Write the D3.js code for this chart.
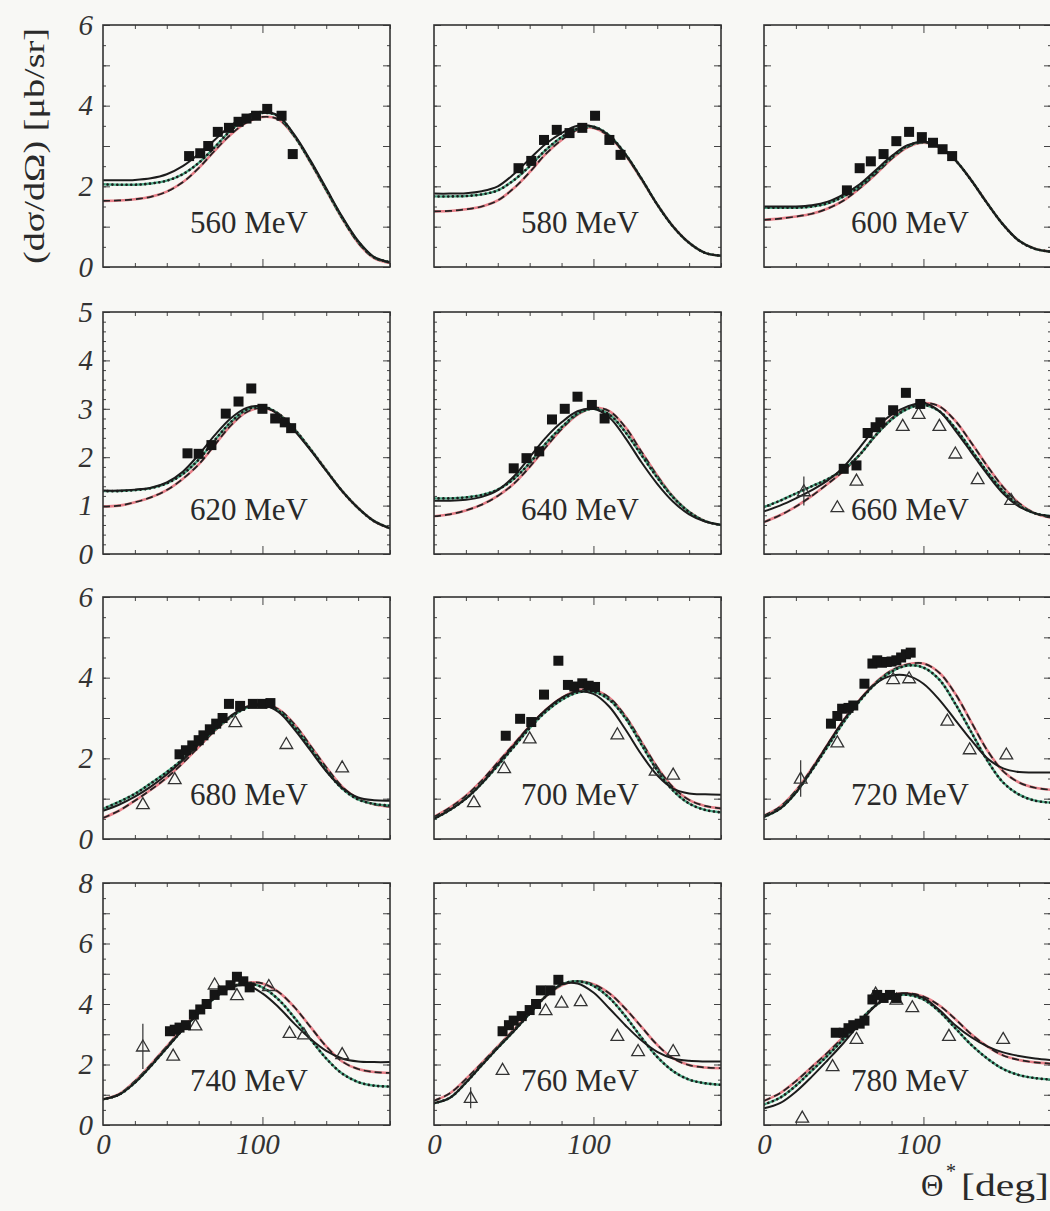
<!DOCTYPE html>
<html>
<head>
<meta charset="utf-8">
<script src="https://cdn.jsdelivr.net/npm/d3@7"></script>
<style>
  html, body { margin: 0; padding: 0; background: #f8f8f5; }
  svg { display: block; }
</style>
</head>
<body>
<script>
// Panel labels (photon energy), one per panel, row by row
const energies = ["560 MeV", "580 MeV", "600 MeV", "620 MeV", "640 MeV", "660 MeV",
                  "680 MeV", "700 MeV", "720 MeV", "740 MeV", "760 MeV", "780 MeV"];

// Upper limit of the y axis for each row of panels, and the labelled ticks
const rowYMax = [6, 5, 6, 8];
const rowYTicks = [[0, 2, 4, 6], [0, 1, 2, 3, 4, 5], [0, 2, 4, 6], [0, 2, 4, 6, 8]];
const rowYMinorStep = [0.5, 0.2, 0.5, 0.5];
const xTickLabels = [0, 100];

// Angles at which the model curves are tabulated (deg)
const angles = [0, 10, 20, 30, 40, 50, 60, 70, 80, 90, 100, 110, 120, 130, 140, 150, 160, 170, 180];

// Model curves, one row per panel (ub/sr)
const solidCurves = [
  [2.15,2.15,2.16,2.2,2.3,2.5,2.8,3.15,3.5,3.75,3.85,3.75,3.28,2.65,1.95,1.25,0.65,0.25,0.12],
  [1.82,1.82,1.83,1.88,2.0,2.3,2.68,3.05,3.32,3.5,3.48,3.25,2.8,2.2,1.55,1.0,0.6,0.35,0.28],
  [1.5,1.5,1.5,1.53,1.62,1.8,2.05,2.4,2.75,3.02,3.1,2.98,2.65,2.15,1.58,1.05,0.65,0.45,0.38],
  [1.31,1.31,1.33,1.37,1.48,1.7,2.05,2.45,2.8,3.02,3.05,2.88,2.55,2.15,1.72,1.3,0.95,0.68,0.53],
  [1.1,1.1,1.12,1.18,1.32,1.6,2.0,2.4,2.72,2.95,3.0,2.82,2.4,1.9,1.45,1.08,0.82,0.67,0.6],
  [0.88,1.0,1.15,1.32,1.52,1.8,2.2,2.6,2.88,3.05,3.12,2.95,2.55,2.1,1.65,1.25,0.98,0.84,0.78],
  [0.7,0.85,1.05,1.3,1.6,1.95,2.35,2.72,3.05,3.28,3.32,3.15,2.72,2.2,1.68,1.27,1.03,0.96,0.95],
  [0.5,0.72,1.0,1.38,1.85,2.32,2.8,3.2,3.5,3.66,3.6,3.28,2.72,2.1,1.58,1.25,1.13,1.11,1.1],
  [0.55,0.75,1.15,1.72,2.35,2.95,3.45,3.85,4.05,4.05,3.85,3.45,2.95,2.45,2.0,1.75,1.66,1.65,1.65],
  [0.85,1.0,1.4,1.95,2.55,3.15,3.7,4.2,4.55,4.62,4.35,3.9,3.35,2.85,2.45,2.2,2.1,2.08,2.08],
  [0.72,0.9,1.4,1.98,2.55,3.1,3.68,4.25,4.65,4.68,4.38,3.85,3.3,2.8,2.42,2.2,2.12,2.1,2.1],
  [0.55,0.72,1.1,1.6,2.15,2.72,3.35,3.95,4.3,4.35,4.2,3.8,3.3,2.9,2.6,2.4,2.28,2.2,2.15]
];
const dottedCurves = [
  [2.05,2.04,2.04,2.07,2.14,2.3,2.58,2.97,3.38,3.68,3.82,3.74,3.25,2.62,1.92,1.22,0.63,0.24,0.12],
  [1.75,1.75,1.76,1.8,1.9,2.15,2.5,2.9,3.22,3.43,3.48,3.26,2.8,2.2,1.55,1.0,0.6,0.35,0.28],
  [1.47,1.47,1.47,1.5,1.58,1.75,2.0,2.35,2.72,3.0,3.1,2.98,2.65,2.15,1.58,1.05,0.65,0.45,0.38],
  [1.3,1.3,1.32,1.36,1.46,1.65,1.95,2.35,2.72,2.98,3.05,2.9,2.58,2.17,1.73,1.3,0.95,0.68,0.53],
  [1.15,1.15,1.17,1.22,1.33,1.55,1.88,2.28,2.62,2.9,3.0,2.88,2.52,2.05,1.58,1.17,0.87,0.68,0.6],
  [0.97,1.1,1.25,1.4,1.55,1.75,2.05,2.45,2.78,3.0,3.08,2.95,2.6,2.15,1.7,1.3,1.0,0.84,0.78],
  [0.75,0.92,1.12,1.38,1.66,1.98,2.35,2.7,3.02,3.25,3.32,3.18,2.78,2.25,1.7,1.25,0.98,0.87,0.83],
  [0.5,0.72,1.0,1.38,1.82,2.28,2.75,3.15,3.45,3.63,3.65,3.45,3.0,2.35,1.7,1.2,0.88,0.72,0.66],
  [0.55,0.75,1.15,1.7,2.3,2.9,3.42,3.85,4.15,4.3,4.25,3.95,3.35,2.65,1.95,1.4,1.1,0.95,0.9],
  [0.85,1.0,1.4,1.95,2.55,3.15,3.7,4.2,4.55,4.68,4.55,4.15,3.55,2.85,2.2,1.7,1.42,1.3,1.27],
  [0.72,0.9,1.4,1.98,2.55,3.1,3.68,4.25,4.65,4.75,4.6,4.2,3.6,2.9,2.25,1.78,1.5,1.38,1.33],
  [0.68,0.9,1.3,1.8,2.3,2.85,3.45,3.95,4.25,4.3,4.15,3.75,3.2,2.65,2.2,1.85,1.65,1.55,1.5]
];
const dashedCurves = [
  [1.64,1.65,1.68,1.74,1.87,2.1,2.45,2.88,3.28,3.58,3.72,3.66,3.24,2.6,1.9,1.2,0.6,0.22,0.1],
  [1.38,1.39,1.43,1.5,1.65,1.95,2.35,2.8,3.15,3.4,3.45,3.23,2.78,2.18,1.55,1.0,0.6,0.35,0.28],
  [1.17,1.2,1.25,1.32,1.45,1.65,1.95,2.3,2.68,2.97,3.08,2.97,2.65,2.15,1.58,1.05,0.65,0.45,0.38],
  [0.98,1.0,1.07,1.17,1.32,1.55,1.85,2.25,2.65,2.93,3.02,2.9,2.58,2.17,1.73,1.3,0.95,0.68,0.53],
  [0.78,0.82,0.9,1.02,1.2,1.45,1.8,2.2,2.58,2.88,3.02,2.95,2.62,2.12,1.62,1.18,0.87,0.68,0.6],
  [0.66,0.8,0.98,1.2,1.45,1.72,2.05,2.45,2.8,3.02,3.12,3.05,2.75,2.3,1.82,1.38,1.05,0.84,0.75],
  [0.52,0.7,0.95,1.22,1.52,1.88,2.28,2.68,3.02,3.27,3.35,3.22,2.85,2.32,1.78,1.3,1.0,0.86,0.8],
  [0.55,0.78,1.07,1.45,1.9,2.35,2.8,3.2,3.5,3.68,3.7,3.5,3.05,2.42,1.78,1.28,0.97,0.82,0.76],
  [0.58,0.8,1.2,1.75,2.35,2.95,3.45,3.88,4.18,4.33,4.35,4.12,3.6,2.9,2.2,1.68,1.4,1.27,1.22],
  [0.85,1.02,1.45,2.0,2.6,3.2,3.75,4.22,4.55,4.7,4.68,4.4,3.9,3.25,2.6,2.1,1.85,1.75,1.72],
  [0.8,1.05,1.52,2.05,2.6,3.15,3.72,4.25,4.62,4.75,4.65,4.35,3.85,3.25,2.65,2.2,1.98,1.9,1.88],
  [0.8,1.05,1.45,1.92,2.4,2.92,3.45,3.95,4.28,4.35,4.25,3.95,3.5,3.0,2.6,2.3,2.15,2.07,2.03]
];

// Measured points, filled squares: [angle, value]
const squarePoints = [
  [[54,2.75],[61,2.82],[66,3.0],[72,3.35],[79,3.45],[85,3.6],[90,3.68],[96,3.75],[103,3.92],[112,3.75],[119,2.8]],
  [[53,2.45],[61,2.63],[69,3.15],[77,3.4],[85,3.32],[93,3.45],[101,3.75],[110,3.15],[117,2.78]],
  [[52,1.9],[60,2.45],[67,2.62],[75,2.8],[83,3.12],[91,3.35],[99,3.22],[106,3.08],[112,2.92],[118,2.75]],
  [[53,2.08],[60,2.07],[68,2.25],[77,2.9],[85,3.15],[93,3.42],[100,3.0],[108,2.8],[114,2.72],[118,2.6]],
  [[50,1.77],[58,1.98],[66,2.12],[74,2.78],[82,3.0],[90,3.25],[99,3.08],[107,2.8]],
  [[50,1.76],[58,1.83],[65,2.5],[70,2.62],[73,2.72],[81,2.97],[89,3.33],[98,3.1]],
  [[48,2.1],[52,2.2],[56,2.32],[60,2.45],[63,2.57],[67,2.72],[71,2.86],[75,3.0],[79,3.35],[86,3.3],[94,3.35],[100,3.35],[105,3.37]],
  [[45,2.56],[54,2.98],[61,2.9],[69,3.58],[78,4.42],[84,3.82],[88,3.78],[93,3.86],[97,3.8],[101,3.77]],
  [[42,2.86],[46,3.05],[49,3.23],[53,3.25],[56,3.31],[63,3.85],[68,4.35],[71,4.43],[74,4.37],[77,4.39],[80,4.4],[83,4.43],[86,4.5],[89,4.58],[92,4.62]],
  [[42,3.1],[45,3.15],[48,3.22],[52,3.3],[57,3.65],[61,3.82],[65,4.0],[70,4.3],[75,4.45],[80,4.62],[84,4.9],[88,4.75],[92,4.55]],
  [[43,3.1],[47,3.3],[50,3.45],[55,3.6],[60,3.8],[64,4.0],[67,4.45],[73,4.45],[78,4.8]],
  [[45,3.05],[50,3.05],[53,3.2],[56,3.3],[60,3.35],[63,3.45],[68,4.15],[71,4.3],[75,4.2],[79,4.3],[83,4.2]]
];

// Measured points, open triangles: [angle, value, error]
const trianglePoints = [
  [], [], [], [], [],
  [[25,1.3,0.3],[46,0.97,0],[58,1.52,0],[87,2.65,0],[97,2.9,0],[110,2.65,0],[120,2.08,0],[134,1.55,0],[155,1.12,0]],
  [[25,0.87,0],[45,1.49,0],[83,2.9,0],[115,2.36,0],[150,1.78,0]],
  [[25,0.92,0],[44,1.76,0],[60,2.5,0],[115,2.6,0],[139,1.7,0],[150,1.6,0]],
  [[23,1.5,0.45],[46,2.4,0],[81,3.97,0],[91,3.99,0],[115,2.94,0],[129,2.23,0],[152,2.1,0]],
  [[25,2.6,0.75],[44,2.3,0],[58,3.3,0],[70,4.65,0],[84,4.3,0],[104,4.6,0],[117,3.05,0],[126,3.0,0],[150,2.35,0]],
  [[23,0.9,0.35],[43,1.83,0],[70,3.8,0],[80,4.05,0],[92,4.1,0],[115,2.95,0],[128,2.45,0],[150,2.45,0]],
  [[24,0.25,0],[43,1.95,0],[58,2.85,0],[70,4.35,0],[83,4.15,0],[93,3.9,0],[116,2.95,0],[150,2.85,0]]
];

// ---------- layout ----------
const W = 1050, H = 1211;
const colLeft = [103, 434, 764];
const rowTop = [25, 312, 597, 883];
const pw = 287, ph = 242;
const serif = "'Liberation Serif', 'Times New Roman', serif";
const ink = "#1c1c1c";
const intFmt = d3.format("d");

const svg = d3.select("body").append("svg")
  .attr("width", W).attr("height", H)
  .style("background", "#f8f8f5");

const defs = svg.append("defs");

energies.forEach((label, i) => {
  const r = Math.floor(i / 3), c = i % 3;
  const x = d3.scaleLinear().domain([0, 180]).range([0, pw]);
  const y = d3.scaleLinear().domain([0, rowYMax[r]]).range([ph, 0]);

  const g = svg.append("g").attr("transform", `translate(${colLeft[c]},${rowTop[r]})`);

  defs.append("clipPath").attr("id", "clip" + i)
    .append("rect").attr("x", 0).attr("y", 0).attr("width", pw).attr("height", ph);

  // inward ticks on all four sides
  const xMinor = d3.range(0, 181, 20).filter(v => v !== 0 && v !== 100);
  const yMinor = d3.range(0, rowYMax[r] + 1e-9, rowYMinorStep[r]);
  const yMajor = d3.range(0, rowYMax[r] + 1e-9, 1);
  const tickAxes = [
    [d3.axisBottom(x).tickValues(xMinor).tickSize(-4), `translate(0,${ph})`],
    [d3.axisBottom(x).tickValues([100]).tickSize(-8), `translate(0,${ph})`],
    [d3.axisTop(x).tickValues(xMinor).tickSize(-4), null],
    [d3.axisTop(x).tickValues([100]).tickSize(-8), null],
    [d3.axisLeft(y).tickValues(yMinor).tickSize(-3), null],
    [d3.axisLeft(y).tickValues(yMajor).tickSize(-7), null],
    [d3.axisRight(y).tickValues(yMinor).tickSize(-3), `translate(${pw},0)`],
    [d3.axisRight(y).tickValues(yMajor).tickSize(-7), `translate(${pw},0)`]
  ];
  tickAxes.forEach(([ax, tr]) => {
    const a = g.append("g").call(ax.tickFormat(""));
    if (tr) a.attr("transform", tr);
    a.select(".domain").remove();
    a.selectAll("line").attr("stroke", "#444").attr("stroke-width", 1);
  });

  // y tick labels on the left column
  if (c === 0) {
    const ya = g.append("g").call(d3.axisLeft(y).tickValues(rowYTicks[r])
      .tickFormat(intFmt).tickSize(0).tickPadding(10));
    ya.select(".domain").remove();
    ya.selectAll("text")
      .attr("font-family", serif).attr("font-style", "italic")
      .attr("font-size", 29).attr("fill", "#333");
  }
  // x tick labels on the bottom row
  if (r === 3) {
    const xa = g.append("g").attr("transform", `translate(0,${ph})`)
      .call(d3.axisBottom(x).tickValues(xTickLabels).tickFormat(intFmt).tickSize(0).tickPadding(8));
    xa.select(".domain").remove();
    xa.selectAll("text")
      .attr("font-family", serif).attr("font-style", "italic")
      .attr("font-size", 29).attr("fill", "#333")
      .attr("dx", d => d === 0 ? 0 : -5);
  }

  const plot = g.append("g").attr("clip-path", `url(#clip${i})`);
  const line = d3.line()
    .x((d, j) => x(angles[j]))
    .y(d => y(d))
    .curve(d3.curveCatmullRom.alpha(0.5));

  // dashed model: red trace with black dashes
  plot.append("path").attr("d", line(dashedCurves[i]))
    .attr("fill", "none").attr("stroke", "#e36a74").attr("stroke-width", 2.6).attr("opacity", 0.85);
  plot.append("path").attr("d", line(dashedCurves[i]))
    .attr("fill", "none").attr("stroke", "#222").attr("stroke-width", 1.7)
    .attr("stroke-dasharray", "7,4");

  // dotted model: green trace with black dots
  plot.append("path").attr("d", line(dottedCurves[i]))
    .attr("fill", "none").attr("stroke", "#2f9c72").attr("stroke-width", 2.4).attr("opacity", 0.85);
  plot.append("path").attr("d", line(dottedCurves[i]))
    .attr("fill", "none").attr("stroke", "#1a1a1a").attr("stroke-width", 2.6)
    .attr("stroke-linecap", "round").attr("stroke-dasharray", "0.1,4.6");

  // solid model
  plot.append("path").attr("d", line(solidCurves[i]))
    .attr("fill", "none").attr("stroke", ink).attr("stroke-width", 2);

  // open triangles with error bars
  const tri = d3.symbol().type(d3.symbolTriangle).size(70);
  trianglePoints[i].forEach(([a, v, e]) => {
    if (e > 0) {
      plot.append("line")
        .attr("x1", x(a)).attr("x2", x(a))
        .attr("y1", y(v - e)).attr("y2", y(v + e))
        .attr("stroke", "#333").attr("stroke-width", 1.2);
    }
    plot.append("path").attr("d", tri())
      .attr("transform", `translate(${x(a)},${y(v) + 1})`)
      .attr("fill", "none").attr("stroke", "#333").attr("stroke-width", 1.3);
  });

  // filled squares
  plot.selectAll(".sq").data(squarePoints[i]).enter().append("rect")
    .attr("x", d => x(d[0]) - 5).attr("y", d => y(d[1]) - 5)
    .attr("width", 10).attr("height", 10)
    .attr("fill", "#151515");

  // frame
  g.append("rect").attr("width", pw).attr("height", ph)
    .attr("fill", "none").attr("stroke", "#333").attr("stroke-width", 1.6);

  // energy label
  g.append("text").attr("x", 87).attr("y", 208)
    .attr("font-family", serif).attr("font-size", 31).attr("fill", "#2a2a2a")
    .text(label);
});

// axis titles
svg.append("text")
  .attr("transform", "translate(44,146) rotate(-90)")
  .attr("text-anchor", "middle")
  .attr("font-family", serif).attr("font-size", 30).attr("fill", "#2a2a2a")
  .attr("textLength", 236).attr("lengthAdjust", "spacingAndGlyphs")
  .text("(dσ/dΩ) [μb/sr]");

const xt = svg.append("g").attr("font-family", serif).attr("fill", "#2a2a2a");
xt.append("text").attr("x", 921).attr("y", 1196).attr("font-size", 31).text("Θ");
xt.append("text").attr("x", 946).attr("y", 1178).attr("font-size", 20).text("*");
xt.append("text").attr("x", 961).attr("y", 1196).attr("font-size", 31)
  .attr("textLength", 88).attr("lengthAdjust", "spacingAndGlyphs").text("[deg]");
</script>
</body>
</html>
